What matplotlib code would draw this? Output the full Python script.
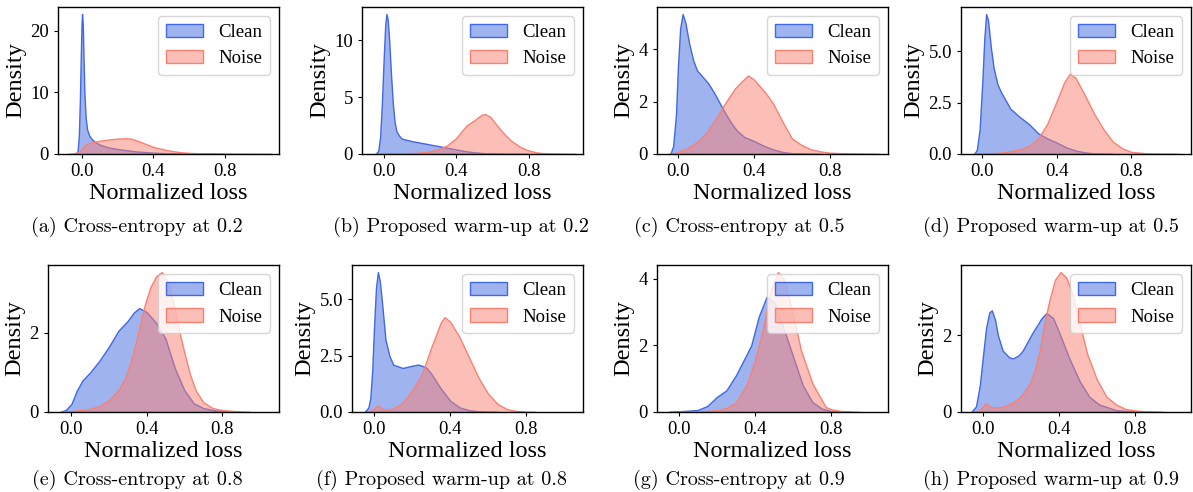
import matplotlib
matplotlib.use("Agg")
import matplotlib.pyplot as plt

plt.rcParams['font.family'] = ['Liberation Serif', 'DejaVu Serif']

# ---------------- data ----------------
captions = ["(a) Cross-entropy at 0.2", "(b) Proposed warm-up at 0.2",
            "(c) Cross-entropy at 0.5", "(d) Proposed warm-up at 0.5",
            "(e) Cross-entropy at 0.8", "(f) Proposed warm-up at 0.8",
            "(g) Cross-entropy at 0.9", "(h) Proposed warm-up at 0.9"]
series_names = ["Clean", "Noise"]
x_ticks = [0.0, 0.4, 0.8]

# (a)
a_clean_x = [-0.035, -0.025, -0.018, -0.012, -0.007, -0.003, 0.0, 0.004, 0.008, 0.013, 0.02, 0.028,
             0.04, 0.055, 0.07, 0.1, 0.15, 0.2, 0.3, 0.4, 0.5, 0.6, 0.7, 0.8]
a_clean_y = [0, 0.5, 3, 9, 16, 21, 22.7, 21, 16, 10, 6, 4.0,
             3.0, 2.4, 2.0, 1.5, 1.05, 0.8, 0.42, 0.22, 0.1, 0.04, 0.01, 0]
a_noise_x = [-0.08, -0.05, -0.02, 0.0, 0.02, 0.04, 0.07, 0.1, 0.15, 0.2, 0.25, 0.28, 0.32, 0.36,
             0.4, 0.45, 0.5, 0.55, 0.6, 0.7, 0.8, 0.9, 1.0, 1.06]
a_noise_y = [0, 0.05, 0.3, 0.9, 1.5, 1.8, 2.0, 2.15, 2.35, 2.5, 2.55, 2.45, 2.05, 1.6,
             1.15, 0.8, 0.5, 0.3, 0.18, 0.08, 0.04, 0.02, 0.01, 0]
a_yticks = [0, 10, 20]

# (b)
b_clean_x = [-0.045, -0.03, -0.02, -0.01, 0.0, 0.008, 0.015, 0.022, 0.03, 0.04, 0.05, 0.06, 0.07,
             0.085, 0.1, 0.15, 0.2, 0.25, 0.3, 0.35, 0.4, 0.45, 0.5, 0.55, 0.6, 0.7, 0.8]
b_clean_y = [0, 0.3, 1.5, 4.5, 8.5, 11.3, 12.3, 11.8, 10, 7, 4.5, 2.8, 2.0,
             1.6, 1.35, 1.15, 1.0, 0.85, 0.7, 0.55, 0.4, 0.25, 0.15, 0.08, 0.04, 0.01, 0]
b_noise_x = [-0.05, 0.0, 0.1, 0.2, 0.25, 0.3, 0.35, 0.4, 0.43, 0.46, 0.5, 0.54, 0.56, 0.59, 0.62,
             0.66, 0.7, 0.75, 0.8, 0.85, 0.9, 1.0, 1.06]
b_noise_y = [0, 0.02, 0.05, 0.12, 0.22, 0.4, 0.75, 1.4, 2.0, 2.55, 2.95, 3.45, 3.5, 3.25, 2.6,
             1.85, 1.2, 0.65, 0.3, 0.12, 0.05, 0.01, 0]
b_yticks = [0, 5, 10]

# (c)
c_clean_x = [-0.04, -0.025, -0.01, 0.0, 0.012, 0.025, 0.04, 0.06, 0.08, 0.1, 0.13, 0.16, 0.19,
             0.22, 0.25, 0.28, 0.31, 0.35, 0.4, 0.45, 0.5, 0.55, 0.6, 0.7, 0.75]
c_clean_y = [0, 0.3, 1.5, 3.3, 4.8, 5.35, 5.0, 4.2, 3.6, 3.2, 2.95, 2.7, 2.35,
             1.95, 1.55, 1.2, 0.9, 0.65, 0.5, 0.32, 0.18, 0.08, 0.03, 0.01, 0]
c_noise_x = [-0.05, -0.02, 0.0, 0.05, 0.1, 0.15, 0.2, 0.25, 0.3, 0.34, 0.37, 0.4, 0.43, 0.46,
             0.5, 0.55, 0.6, 0.65, 0.7, 0.75, 0.8, 0.9, 1.0, 1.06]
c_noise_y = [0, 0.03, 0.08, 0.22, 0.45, 0.8, 1.35, 1.95, 2.5, 2.8, 3.0, 2.85, 2.6, 2.35,
             1.95, 1.25, 0.6, 0.35, 0.18, 0.1, 0.05, 0.02, 0.01, 0]
c_yticks = [0, 2, 4]

# (d)
d_clean_x = [-0.045, -0.03, -0.015, 0.0, 0.01, 0.02, 0.03, 0.045, 0.06, 0.08, 0.1, 0.15, 0.2,
             0.25, 0.3, 0.35, 0.4, 0.45, 0.5, 0.55, 0.6, 0.7]
d_clean_y = [0, 0.2, 1.2, 3.6, 5.6, 6.8, 6.5, 5.2, 4.2, 3.4, 3.0, 2.2, 1.8,
             1.45, 1.0, 0.75, 0.55, 0.32, 0.17, 0.08, 0.03, 0]
d_noise_x = [-0.05, 0.0, 0.1, 0.2, 0.25, 0.3, 0.35, 0.4, 0.44, 0.47, 0.5, 0.55, 0.6, 0.65,
             0.7, 0.75, 0.8, 0.9, 1.0, 1.06]
d_noise_y = [0, 0.02, 0.06, 0.22, 0.4, 0.75, 1.5, 2.6, 3.5, 3.9, 3.7, 2.85, 1.95, 1.2,
             0.6, 0.28, 0.1, 0.02, 0.01, 0]
d_yticks = [0.0, 2.5, 5.0]

# (e)
e_clean_x = [-0.06, -0.03, 0.0, 0.03, 0.06, 0.1, 0.15, 0.2, 0.25, 0.3, 0.33, 0.36, 0.4, 0.45,
             0.5, 0.55, 0.6, 0.65, 0.7, 0.75, 0.8, 0.85]
e_clean_y = [0, 0.05, 0.2, 0.55, 0.8, 1.0, 1.3, 1.65, 2.05, 2.3, 2.5, 2.62, 2.52, 2.25,
             1.85, 1.1, 0.55, 0.22, 0.1, 0.05, 0.02, 0]
e_noise_x = [-0.05, 0.0, 0.1, 0.15, 0.2, 0.25, 0.29, 0.33, 0.36, 0.39, 0.42, 0.45, 0.48, 0.51,
             0.54, 0.57, 0.6, 0.63, 0.66, 0.7, 0.75, 0.8, 0.9, 0.95]
e_noise_y = [0, 0.02, 0.08, 0.15, 0.3, 0.55, 0.9, 1.5, 2.1, 2.7, 3.15, 3.42, 3.53, 3.3,
             2.8, 2.1, 1.5, 0.95, 0.55, 0.25, 0.1, 0.05, 0.01, 0]
e_yticks = [0, 2]

# (f)
f_clean_x = [-0.05, -0.03, -0.02, -0.01, 0.0, 0.01, 0.02, 0.03, 0.04, 0.06, 0.08, 0.1, 0.15,
             0.2, 0.23, 0.27, 0.3, 0.35, 0.4, 0.45, 0.5, 0.55, 0.6, 0.65]
f_clean_y = [0, 0.2, 0.6, 1.8, 3.8, 5.5, 6.2, 5.8, 5.0, 3.2, 2.5, 2.1, 1.95,
             2.05, 2.1, 2.0, 1.7, 1.05, 0.5, 0.2, 0.08, 0.03, 0.01, 0]
f_noise_x = [-0.03, 0.0, 0.02, 0.04, 0.07, 0.1, 0.15, 0.2, 0.25, 0.3, 0.35, 0.37, 0.4, 0.45,
             0.5, 0.55, 0.6, 0.65, 0.7, 0.75, 0.8, 0.85]
f_noise_y = [0, 0.15, 0.3, 0.15, 0.1, 0.15, 0.4, 0.95, 1.65, 2.85, 3.95, 4.2, 4.0, 3.3,
             2.4, 1.5, 0.8, 0.35, 0.12, 0.04, 0.01, 0]
f_yticks = [0.0, 2.5, 5.0]

# (g)
g_clean_x = [-0.05, 0.0, 0.1, 0.15, 0.2, 0.25, 0.3, 0.35, 0.38, 0.42, 0.46, 0.5, 0.55, 0.6,
             0.65, 0.7, 0.75, 0.8, 0.85, 0.9]
g_clean_y = [0, 0.02, 0.06, 0.18, 0.45, 0.65, 1.1, 1.66, 2.0, 2.87, 3.45, 3.3, 2.5, 1.65,
             0.8, 0.3, 0.1, 0.03, 0.01, 0]
g_noise_x = [-0.05, 0.1, 0.2, 0.25, 0.3, 0.36, 0.4, 0.44, 0.48, 0.52, 0.55, 0.6, 0.64, 0.7,
             0.77, 0.8, 0.85, 0.9, 0.95]
g_noise_y = [0, 0.01, 0.05, 0.12, 0.28, 0.86, 1.56, 2.45, 3.6, 4.2, 4.0, 2.9, 1.86, 0.86,
             0.15, 0.08, 0.03, 0.01, 0]
g_yticks = [0, 2, 4]

# (h)
h_clean_x = [-0.06, -0.035, -0.015, 0.0, 0.018, 0.035, 0.048, 0.065, 0.08, 0.105, 0.14, 0.16,
             0.19, 0.21, 0.26, 0.31, 0.335, 0.37, 0.4, 0.455, 0.51, 0.56, 0.61, 0.7, 0.8, 0.85]
h_clean_y = [0, 0.15, 0.7, 1.4, 2.2, 2.6, 2.65, 2.4, 2.0, 1.6, 1.42, 1.4,
             1.48, 1.6, 2.05, 2.45, 2.58, 2.45, 2.1, 1.4, 0.8, 0.4, 0.2, 0.05, 0.01, 0]
h_noise_x = [-0.03, -0.01, 0.01, 0.02, 0.035, 0.05, 0.1, 0.15, 0.2, 0.25, 0.28, 0.3, 0.32,
             0.35, 0.38, 0.41, 0.44, 0.47, 0.5, 0.55, 0.6, 0.65, 0.7, 0.75, 0.8, 0.85, 0.9, 0.95]
h_noise_y = [0, 0.08, 0.2, 0.22, 0.15, 0.12, 0.13, 0.22, 0.4, 0.75, 1.2, 1.6, 2.2,
             2.9, 3.45, 3.65, 3.5, 3.1, 2.5, 1.5, 0.85, 0.4, 0.2, 0.08, 0.04, 0.02, 0.01, 0]
h_yticks = [0, 2]

panels = [
    (a_clean_x, a_clean_y, a_noise_x, a_noise_y, a_yticks),
    (b_clean_x, b_clean_y, b_noise_x, b_noise_y, b_yticks),
    (c_clean_x, c_clean_y, c_noise_x, c_noise_y, c_yticks),
    (d_clean_x, d_clean_y, d_noise_x, d_noise_y, d_yticks),
    (e_clean_x, e_clean_y, e_noise_x, e_noise_y, e_yticks),
    (f_clean_x, f_clean_y, f_noise_x, f_noise_y, f_yticks),
    (g_clean_x, g_clean_y, g_noise_x, g_noise_y, g_yticks),
    (h_clean_x, h_clean_y, h_noise_x, h_noise_y, h_yticks),
]

# ---------------- layout (pixel boxes) ----------------
W, H = 1193, 492
boxes = [(58, 7, 279, 154), (362, 7, 583, 154), (657, 7, 888, 154), (961, 7, 1191, 154),
         (48, 265, 279, 412), (352, 265, 583, 412), (657, 265, 888, 412), (961, 265, 1191, 412)]
xlims = [(-0.135, 1.105), (-0.12, 1.10), (-0.11, 1.107), (-0.115, 1.12),
         (-0.124, 1.103), (-0.116, 1.098), (-0.113, 1.096), (-0.114, 1.095)]
caption_pos = [(137, 227), (461, 227), (739, 227), (1051, 227),
               (137, 480), (441, 480), (739, 480), (1051, 480)]

blue = '#4169E1'
red = '#FA8072'

fig = plt.figure(figsize=(W / 100, H / 100), dpi=100)
for i, (cx, cy, nx, ny, yt) in enumerate(panels):
    l, t, r, b = boxes[i]
    ax = fig.add_axes([l / W, 1 - b / H, (r - l) / W, (b - t) / H])
    ax.fill_between(cx, cy, 0, facecolor=(0.255, 0.412, 0.882, 0.5), edgecolor=blue,
                    linewidth=1.0, label=series_names[0])
    ax.fill_between(nx, ny, 0, facecolor=(0.980, 0.502, 0.447, 0.5), edgecolor=red,
                    linewidth=1.0, label=series_names[1])
    ax.set_xlim(*xlims[i])
    ax.set_ylim(bottom=0)
    ax.set_xticks(x_ticks)
    ax.set_yticks(yt)
    ax.tick_params(labelsize=13.5, length=3, width=0.8)
    ax.set_xlabel("Normalized loss", fontsize=17.5, labelpad=2)
    ax.set_ylabel("Density", fontsize=17.5, labelpad=3)
    for s in ax.spines.values():
        s.set_linewidth(1.0)
    ax.legend(loc='upper right', fontsize=13.5)
    px, py = caption_pos[i]
    fig.text(px / W, 1 - py / H, captions[i], ha='center', va='center',
             fontsize=14.5, family='cmr10')

fig.savefig("out.png", dpi=100)
